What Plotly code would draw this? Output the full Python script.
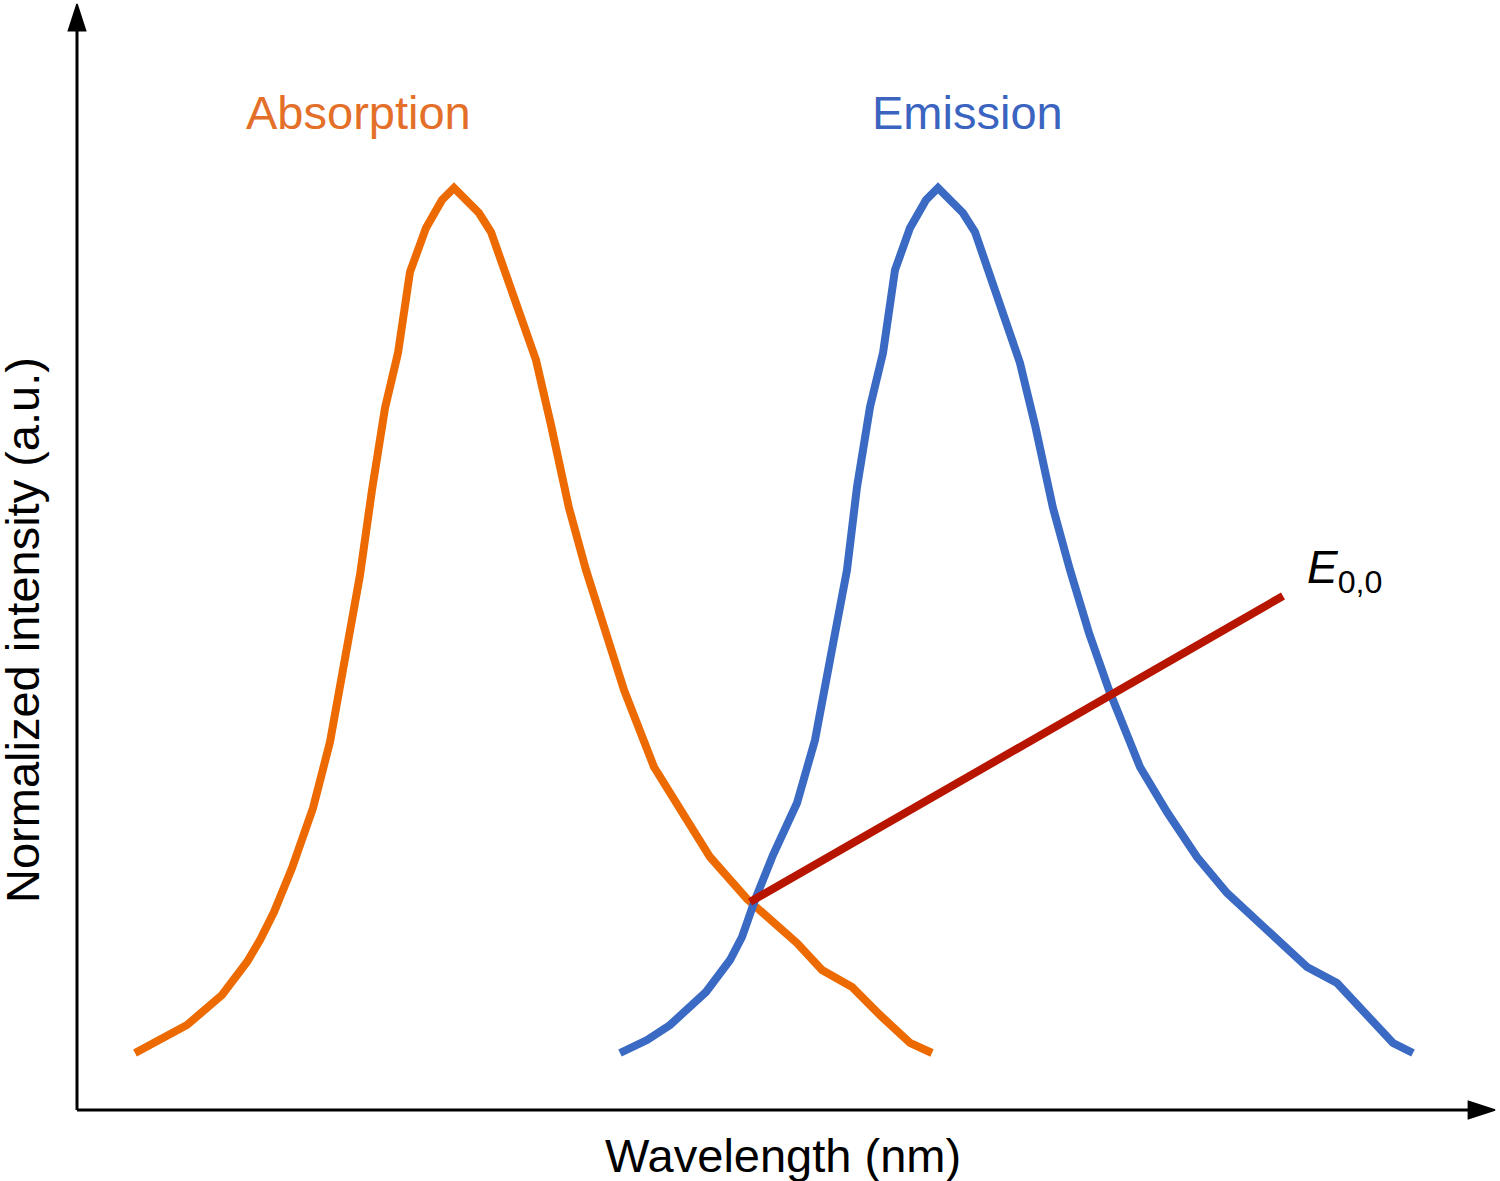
import plotly.graph_objects as go

# Wavelength (arbitrary units) and normalized intensity (arbitrary units)
abs_x = [58, 86, 110, 145, 170, 183, 197, 215, 236, 253,
         268, 283, 295, 308, 321, 333, 349, 365, 377, 390,
         402, 414, 437, 459, 474, 492, 509, 528, 547, 577,
         606, 633, 670, 695, 720, 745, 775, 803, 833, 855]
abs_y = [57, 71, 85, 115, 148, 170, 198, 242, 302, 368,
         448, 535, 620, 702, 757, 838, 882, 910, 922, 910,
         897, 878, 813, 750, 685, 602, 540, 480, 420, 343,
         298, 253, 211, 189, 167, 140, 123, 95, 67, 57]

em_x = [543, 570, 593, 629, 653, 665, 678, 696, 720, 738,
        753, 770, 780, 793, 806, 818, 833, 849, 861, 874,
        886, 898, 921, 943, 958, 976, 993, 1012, 1032, 1063,
        1090, 1120, 1150, 1176, 1203, 1230, 1260, 1316, 1336]
em_y = [57, 70, 85, 118, 150, 173, 210, 255, 307, 370,
        450, 540, 623, 703, 757, 840, 882, 910, 922, 910,
        897, 878, 813, 747, 685, 602, 540, 477, 420, 343,
        298, 253, 217, 193, 170, 143, 127, 67, 57]

e00_x = [673, 1206]
e00_y = [208, 514]

# axis extents (arrow tips)
x_axis_end = 1418
y_axis_end = 1106

ORANGE = "#EC6A00"
BLUE = "#3A6AC3"
RED = "#B71500"
FONT = "Liberation Sans, Arial, Helvetica, sans-serif"

fig = go.Figure()

# axes with arrow heads
for ax_x, ax_y in (([0, x_axis_end], [0, 0]), ([0, 0], [0, y_axis_end])):
    fig.add_trace(go.Scatter(
        x=ax_x, y=ax_y, mode="lines+markers",
        line=dict(color="black", width=3),
        marker=dict(symbol=["circle", "arrow"], size=[0, 28], color="black",
                    opacity=1, angleref="previous",
                    line=dict(width=1.5, color="black")),
        hoverinfo="skip"))

fig.add_trace(go.Scatter(x=abs_x, y=abs_y, mode="lines",
                         line=dict(color=ORANGE, width=8), name="Absorption"))
fig.add_trace(go.Scatter(x=em_x, y=em_y, mode="lines",
                         line=dict(color=BLUE, width=8), name="Emission"))
fig.add_trace(go.Scatter(x=e00_x, y=e00_y, mode="lines",
                         line=dict(color=RED, width=8), name="E0,0"))

# labels
fig.add_annotation(x=281, y=998, text="Absorption", showarrow=False,
                   font=dict(family=FONT, size=47, color="#E46F28"))
fig.add_annotation(x=890, y=998, text="Emission", showarrow=False,
                   font=dict(family=FONT, size=47, color="#3A64C0"))
fig.add_annotation(x=1228, y=540, text="<i>E</i><sub>0,0</sub>", showarrow=False,
                   xanchor="left", font=dict(family=FONT, size=46, color="black"))
fig.add_annotation(x=706, y=-45, text="Wavelength (nm)", showarrow=False,
                   font=dict(family=FONT, size=47, color="black"))
fig.add_annotation(x=-55, y=480, text="Normalized intensity (a.u.)", showarrow=False,
                   textangle=-90, font=dict(family=FONT, size=47, color="black"))

fig.update_layout(
    width=1500, height=1181,
    margin=dict(l=0, r=0, t=0, b=0),
    paper_bgcolor="white", plot_bgcolor="white",
    showlegend=False,
    xaxis=dict(range=[-77, 1423], visible=False, fixedrange=True),
    yaxis=dict(range=[-71, 1110], visible=False, fixedrange=True),
)

fig.write_html(
    "out.html",
    config={"displayModeBar": False},
    post_script="document.body.style.margin='0';document.body.style.overflow='hidden';",
)
